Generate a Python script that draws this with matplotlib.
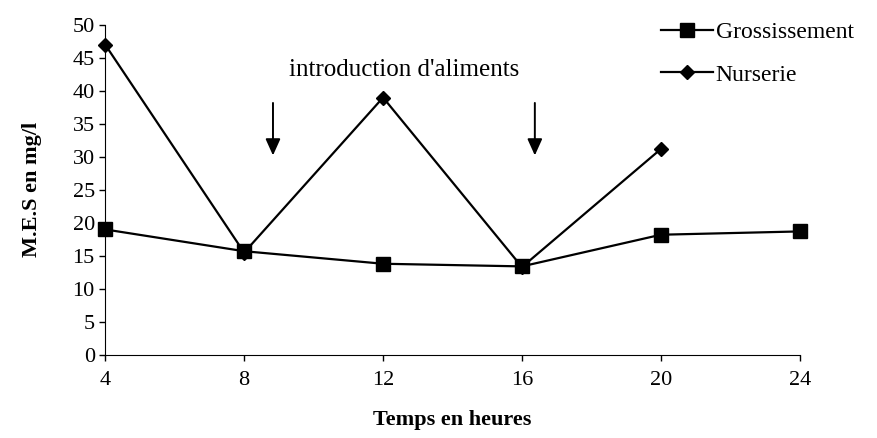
import numpy as np
import matplotlib.pyplot as plt

plt.rcParams['font.family'] = ['Liberation Serif', 'DejaVu Serif']

# data
hours = [4, 8, 12, 16, 20, 24]
grossissement = [19.0, 15.7, 13.8, 13.4, 18.2, 18.7]
nurserie_hours = [4, 8, 12, 16, 20]
nurserie = [47.0, 15.5, 39.0, 13.3, 31.2]
arrow_hours = [8.83, 16.37]

fig = plt.figure(figsize=(8.77, 4.38), dpi=100)
ax = fig.add_axes([0.12, 0.19, 0.792, 0.753])

ax.plot(hours, grossissement, color='black', lw=1.6, marker='s', ms=10,
        label='Grossissement', clip_on=False, zorder=3)
ax.plot(nurserie_hours, nurserie, color='black', lw=1.6, marker='D', ms=7.5,
        label='Nurserie', clip_on=False, zorder=3)

# arrows marking feed introduction
for h in arrow_hours:
    ax.annotate('', xy=(h, 29.8), xytext=(h, 38.6),
                arrowprops=dict(arrowstyle='-|>,head_width=0.45,head_length=1.0',
                                color='black', lw=1.4))
ax.text(12.6, 43.2, "introduction d'aliments", ha='center', va='center',
        fontsize=18)

ax.set_xlim(4, 24)
ax.set_ylim(0, 50)
ax.set_xticks(hours)
ax.set_yticks(np.arange(0, 51, 5))
ax.tick_params(direction='out', length=4, width=1, labelsize=16)
ax.tick_params(axis='x', pad=8)
for s in ['top', 'right']:
    ax.spines[s].set_visible(False)

ax.set_xlabel('Temps en heures', fontsize=16, fontweight='bold', labelpad=14)
ax.set_ylabel('M.E.S en mg/l', fontsize=16, fontweight='bold', labelpad=22)

fig.legend(loc='upper left', bbox_to_anchor=(0.73, 1.0), frameon=False,
           fontsize=17, handlelength=2.2, handletextpad=0.1, labelspacing=0.9)

fig.savefig('out.png', dpi=100)
